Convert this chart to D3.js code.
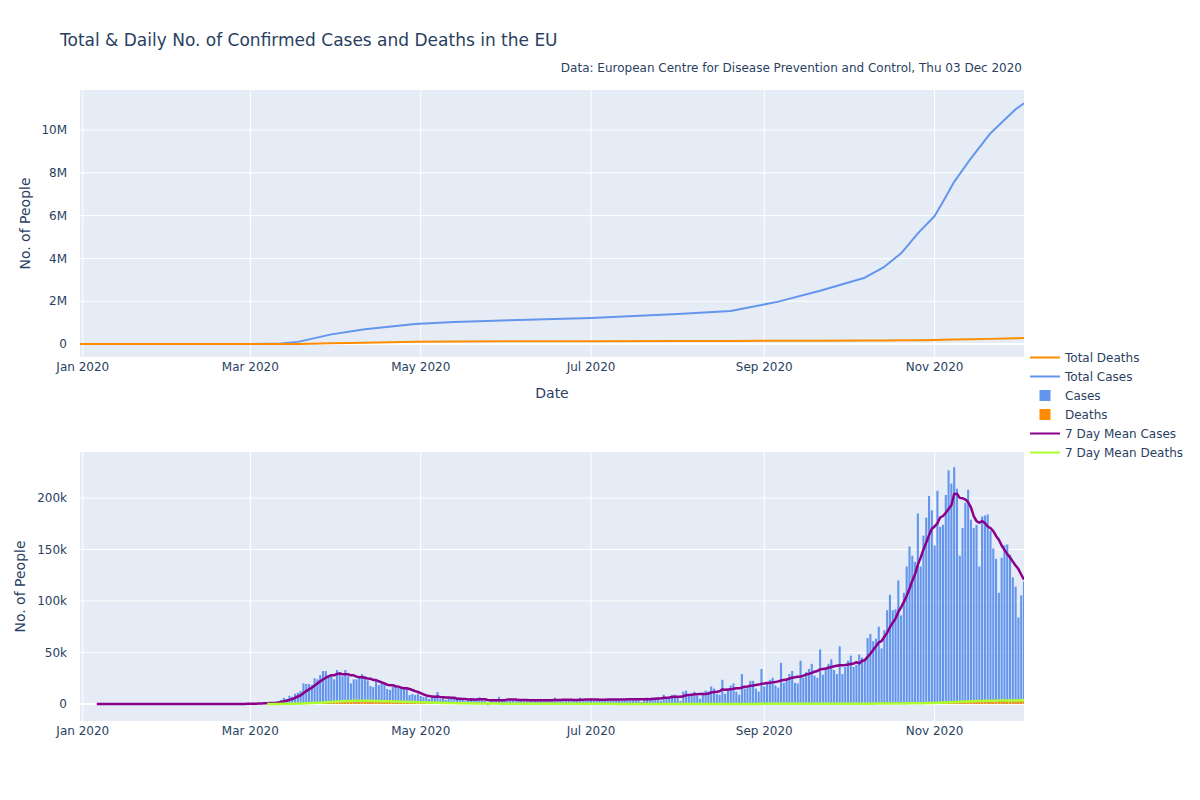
<!DOCTYPE html>
<html>
<head>
<meta charset="utf-8">
<script src="https://cdn.jsdelivr.net/npm/d3@7"></script>
<style>
  body { margin: 0; background: #fff; }
  svg { font-family: "DejaVu Sans", Verdana, sans-serif; }
</style>
</head>
<body>
<div id="chart"></div>
<script>
// ---- Data ----

// Daily confirmed cases, one value per day from 2019-12-31 to 2020-12-03
const casesStart = '2019-12-31';
const dailyCases = [
    0,
    // Jan
    0, 0, 0, 0, 0, 0, 0, 0, 0, 0, 0, 0, 0, 0, 0, 0, 0, 0, 0, 0, 0, 0, 0, 0, 3, 0, 1, 4, 1, 1, 5,
    // Feb
    2, 3, 1, 2, 1, 0, 1, 2, 3, 4, 1, 0, 1, 1, 0, 0, 1, 0, 0, 1, 3, 14, 60, 70, 95, 110, 180, 250, 330,
    // Mar
    420, 520, 600, 750, 900, 1100, 1300, 1400, 1500,
    1600, 2300, 4000, 6000, 5000, 8000, 7000, 10000, 11000, 12600, 20000, 19400, 19400, 18400, 25000,
    24000, 28000, 32000, 32000, 28000, 27000, 24000,
    // Apr
    33000, 31000, 27000, 33000, 27000, 20000, 24000, 24000, 27000, 29000, 27000, 23000, 17500, 16500, 23000,
    18400, 22000, 19400, 14600, 13600, 16500, 16500, 15500, 15500, 14600, 14600, 8700, 9700, 8700, 9700,
    // May
    7800, 6800, 6800, 4900, 6800, 5800, 11600, 4900, 5800, 3900, 5800, 4900,
    5500, 5200, 4800, 4200, 3000, 3800, 5000, 4500, 4800, 6500, 4200, 3200, -1200, 3500, 4300, 4500, 7000, 4200, 3000,
    // Jun
    3500, 4200, 4000, 4300, 4100, 3800, 2800, 3200, 4000, 3900, 4200, 4000, 3600, 2600, 3000,
    3900, 4100, 6200, 4300, 3900, 2900, 3300, 4100, 4300, 4500, 4400, 6000, 3000, 3500, 4400,
    // Jul
    4500, 4600, 4800, 4500, 3200, 3600, 4700, 4800, 5000, 5100, 4400, 3300, 4000, 5000, 5200, 5300, 5600, 4600,
    2000, 5000, 5500, 5000, 6500, 6500, 6500, 3000, 9000, 6500, 6500, 9000, 9000,
    // Aug
    7000, 3000, 12000, 13000, 8000, 10500, 12000, 8000, 5000, 11000, 13000, 12000, 17000, 15000, 10000, 9000,
    23500, 10000, 14000, 18000, 20000, 12000, 9000, 29000, 15000, 16000, 22500, 22500, 15000, 12000, 34000,
    // Sep
    17000, 20000, 23500, 25500, 18000, 16000, 40000, 20500, 23500, 29000, 32000, 20500, 20000, 42000, 25500,
    31000, 34000, 39000, 27500, 25500, 53000, 28500, 34000, 39000,
    43500, 33000, 29000, 56000, 29000, 36000,
    // Oct
    42000, 47000, 36000, 38000, 48000, 45000, 42500, 64000, 68000, 61000, 63500, 75000, 54000, 71600, 91000,
    106000, 91000, 92000, 120000, 86000, 108000, 133500, 153000, 144000, 138000, 185000, 133500, 163500,
    181000, 202000, 188000,
    // Nov
    154000, 207000, 172000, 174000, 203000, 227000, 214000, 230000, 209000, 144000, 171000, 195500, 208000,
    179000, 171000, 174000, 133500, 182000, 183000, 184000, 168000, 151000, 141000, 108000, 142000, 154000,
    155000, 145000, 123000, 114000,
    // Dec
    84000, 105500, 119000
];

// Daily deaths, one value per day from 2020-03-01 to 2020-12-03
const deathsStart = '2020-03-01';
const dailyDeaths = [
    // Mar
    12, 20, 28, 30, 40, 50, 60, 140, 100, 170, 200, 240, 260, 300, 420, 440, 500, 620, 700, 950,
    1050, 1100, 1200, 1300, 1600, 1900, 2200, 2400, 2400, 2200, 2600,
    // Apr
    3000, 3100, 3300, 3400, 2900, 2600, 3200, 3500, 3400, 3300, 3000, 2600, 2300, 2800, 3100,
    3000, 2700, 2400, 2000, 1900, 2500, 2400, 2300, 2100, 1900, 1500, 1300, 2000, 1900, 1700,
    // May
    1500, 1300, 1000, 900, 1400, 1300, 1100, 1000, 900, 700, 600, 900, 900, 800, 700, 600,
    450, 400, 650, 600, 550, 500, 400, 300, 250, 450, 450, 400, 350, 300, 200,
    // Jun
    200, 300, 350, 300, 280, 250, 150, 180, 280, 260, 250, 220, 180, 120, 140,
    240, 220, 200, 180, 150, 100, 120, 200, 190, 170, 150, 130, 90, 110, 180,
    // Jul
    170, 160, 150, 130, 80, 100, 160, 150, 140, 130, 100, 70, 90, 140, 130, 120,
    110, 90, 60, 80, 130, 120, 110, 100, 80, 60, 70, 120, 110, 110, 100,
    // Aug
    80, 60, 80, 120, 110, 110, 100, 90, 60, 70, 130, 120, 110, 110, 90, 70,
    80, 140, 130, 120, 120, 100, 80, 90, 160, 150, 140, 140, 120, 90, 110,
    // Sep
    190, 180, 170, 170, 150, 110, 130, 230, 220, 210, 210, 180, 130, 160, 280,
    270, 260, 260, 220, 160, 190, 330, 320, 310, 300, 260, 190, 230, 380, 370,
    // Oct
    360, 350, 300, 220, 280, 450, 430, 420, 410, 360, 270, 340, 600, 580, 560, 560,
    480, 360, 450, 850, 800, 780, 780, 680, 520, 650, 1300, 1250, 1200, 1250, 1100,
    // Nov
    850, 1100, 2000, 2200, 2200, 2300, 2100, 1600, 1900, 3000, 3100, 3000, 3100, 2800, 2200,
    2500, 3700, 3600, 3500, 3600, 3200, 2500, 2800, 4000, 3900, 3800, 3900, 3300, 2600, 2900,
    // Dec
    4200, 4100, 4000
];

// Running totals (top panel), read at the kinks of the curves
const totalDates = [
    '2019-12-31', '2020-03-01', '2020-03-12', '2020-03-18', '2020-03-30', '2020-04-11', '2020-04-29',
    '2020-05-13', '2020-06-05', '2020-07-01', '2020-08-01', '2020-08-20', '2020-09-06', '2020-09-21',
    '2020-10-07', '2020-10-14', '2020-10-20', '2020-10-26', '2020-11-01', '2020-11-04', '2020-11-08',
    '2020-11-14', '2020-11-21', '2020-11-30', '2020-12-03'
];
const totalCases = [
    0, 2000, 20000, 100000, 450000, 690000, 930000,
    1030000, 1120000, 1210000, 1400000, 1540000, 1980000, 2490000,
    3100000, 3610000, 4240000, 5170000, 5980000, 6650000, 7580000,
    8680000, 9850000, 10970000, 11250000
];
const totalDeaths = [
    0, 0, 1000, 3000, 30000, 60000, 100000,
    115000, 125000, 130000, 135000, 140000, 150000, 155000,
    160000, 165000, 170000, 175000, 185000, 195000, 205000,
    220000, 240000, 265000, 280000
];

// Axis ticks
const xTickDates = ['2020-01-01', '2020-03-01', '2020-05-01', '2020-07-01', '2020-09-01', '2020-11-01'];
const xTickLabels = ['Jan 2020', 'Mar 2020', 'May 2020', 'Jul 2020', 'Sep 2020', 'Nov 2020'];
const topTicks = [0, 2e6, 4e6, 6e6, 8e6, 10e6];
const topTickLabels = ['0', '2M', '4M', '6M', '8M', '10M'];
const bottomTicks = [0, 50000, 100000, 150000, 200000];
const bottomTickLabels = ['0', '50k', '100k', '150k', '200k'];

// Legend entries
const legendItems = [
    { name: 'Total Deaths', type: 'line', color: '#FF8C00' },
    { name: 'Total Cases', type: 'line', color: '#6495ED' },
    { name: 'Cases', type: 'bar', color: '#6495ED' },
    { name: 'Deaths', type: 'bar', color: '#FF8C00' },
    { name: '7 Day Mean Cases', type: 'line', color: '#8B008B' },
    { name: '7 Day Mean Deaths', type: 'line', color: '#ADFF2F' }
];

// ---- Layout ----
const W = 1200, H = 800;
const TEXT = '#2a3f5f';
const BG = '#E5ECF6';
const plotLeft = 80, plotRight = 1024;
const topPanel = { y0: 90, y1: 357 };
const bottomPanel = { y0: 452, y1: 721 };

const parseDate = d3.utcParse('%Y-%m-%d');

function toSeries(start, values) {
    const t0 = parseDate(start);
    return values.map((v, i) => ({ date: d3.utcDay.offset(t0, i), value: v }));
}

function rollingMean(series, n) {
    return series.map((d, i) => {
        if (i < n - 1) return { date: d.date, value: null };
        return { date: d.date, value: d3.mean(series.slice(i - n + 1, i + 1), s => s.value) };
    });
}

const cases = toSeries(casesStart, dailyCases);
const deaths = toSeries(deathsStart, dailyDeaths);
const casesMean = rollingMean(cases, 7);
const deathsMean = rollingMean(deaths, 7);
const totals = totalDates.map((d, i) => ({ date: parseDate(d), cases: totalCases[i], deaths: totalDeaths[i] }));

const svg = d3.select('#chart').append('svg')
    .attr('width', W)
    .attr('height', H)
    .style('background', '#fff');

const x = d3.scaleUtc()
    .domain([parseDate('2019-12-31'), parseDate('2020-12-03')])
    .range([plotLeft, plotRight]);

const yTop = d3.scaleLinear()
    .domain([-607000, 11870000])
    .range([topPanel.y1, topPanel.y0]);

const yBottom = d3.scaleLinear()
    .domain([-16500, 244700])
    .range([bottomPanel.y1, bottomPanel.y0]);

// Panel background, grid, ticks
function drawPanel(panel, y, ticks, labels, id) {
    svg.append('rect')
        .attr('x', plotLeft)
        .attr('y', panel.y0)
        .attr('width', plotRight - plotLeft)
        .attr('height', panel.y1 - panel.y0)
        .attr('fill', BG);

    svg.append('clipPath').attr('id', id)
        .append('rect')
        .attr('x', plotLeft)
        .attr('y', panel.y0)
        .attr('width', plotRight - plotLeft)
        .attr('height', panel.y1 - panel.y0);

    const grid = svg.append('g').attr('clip-path', `url(#${id})`);

    xTickDates.forEach(d => {
        const xx = x(parseDate(d));
        grid.append('line')
            .attr('x1', xx).attr('x2', xx)
            .attr('y1', panel.y0).attr('y2', panel.y1)
            .attr('stroke', '#fff').attr('stroke-width', 1);
    });

    ticks.forEach((t, i) => {
        grid.append('line')
            .attr('x1', plotLeft).attr('x2', plotRight)
            .attr('y1', y(t)).attr('y2', y(t))
            .attr('stroke', '#fff')
            .attr('stroke-width', t === 0 ? 2 : 1);

        svg.append('text')
            .attr('x', 67)
            .attr('y', y(t) + 4.2)
            .attr('text-anchor', 'end')
            .attr('fill', TEXT)
            .style('font-size', '12px')
            .text(labels[i]);
    });

    xTickDates.forEach((d, i) => {
        svg.append('text')
            .attr('x', x(parseDate(d)))
            .attr('y', panel.y1 + 13.5)
            .attr('text-anchor', 'middle')
            .attr('fill', TEXT)
            .style('font-size', '12px')
            .text(xTickLabels[i]);
    });

    return svg.append('g').attr('clip-path', `url(#${id})`);
}

const gTop = drawPanel(topPanel, yTop, topTicks, topTickLabels, 'clip-top');
const gBottom = drawPanel(bottomPanel, yBottom, bottomTicks, bottomTickLabels, 'clip-bottom');

// Top panel: running totals
const totalLine = key => d3.line()
    .x(d => x(d.date))
    .y(d => yTop(d[key]));

gTop.append('path')
    .datum(totals)
    .attr('d', totalLine('cases'))
    .attr('fill', 'none')
    .attr('stroke', '#6495ED')
    .attr('stroke-width', 2)
    .attr('stroke-linejoin', 'round');

gTop.append('path')
    .datum(totals)
    .attr('d', totalLine('deaths'))
    .attr('fill', 'none')
    .attr('stroke', '#FF8C00')
    .attr('stroke-width', 2)
    .attr('stroke-linejoin', 'round');

// Bottom panel: daily bars (overlaid) + 7 day means
const dayW = x(parseDate('2020-01-02')) - x(parseDate('2020-01-01'));
const barW = dayW * 0.75;

function drawBars(data, color) {
    gBottom.append('g')
        .selectAll('rect')
        .data(data)
        .enter().append('rect')
        .attr('x', d => x(d.date) - barW / 2)
        .attr('y', d => Math.min(yBottom(d.value), yBottom(0)))
        .attr('width', barW)
        .attr('height', d => Math.abs(yBottom(0) - yBottom(d.value)))
        .attr('fill', color);
}

drawBars(cases, '#6495ED');
drawBars(deaths, '#FF8C00');

const meanLine = d3.line()
    .defined(d => d.value != null)
    .x(d => x(d.date))
    .y(d => yBottom(d.value));

gBottom.append('path')
    .datum(casesMean)
    .attr('d', meanLine)
    .attr('fill', 'none')
    .attr('stroke', '#8B008B')
    .attr('stroke-width', 2.5)
    .attr('stroke-linejoin', 'round');

gBottom.append('path')
    .datum(deathsMean)
    .attr('d', meanLine)
    .attr('fill', 'none')
    .attr('stroke', '#ADFF2F')
    .attr('stroke-width', 2.5)
    .attr('stroke-linejoin', 'round');

// Titles
svg.append('text')
    .attr('x', 60)
    .attr('y', 46)
    .attr('fill', TEXT)
    .style('font-size', '17px')
    .text('Total & Daily No. of Confirmed Cases and Deaths in the EU');

svg.append('text')
    .attr('x', 1022)
    .attr('y', 72)
    .attr('text-anchor', 'end')
    .attr('fill', TEXT)
    .style('font-size', '12px')
    .text('Data: European Centre for Disease Prevention and Control, Thu 03 Dec 2020');

svg.append('text')
    .attr('x', (plotLeft + plotRight) / 2)
    .attr('y', 398)
    .attr('text-anchor', 'middle')
    .attr('fill', TEXT)
    .style('font-size', '14px')
    .text('Date');

[[25, topPanel], [20, bottomPanel]].forEach(([xx, panel]) => {
    const cy = (panel.y0 + panel.y1) / 2;
    svg.append('text')
        .attr('transform', `translate(${xx},${cy}) rotate(-90)`)
        .attr('dy', '0.35em')
        .attr('text-anchor', 'middle')
        .attr('fill', TEXT)
        .style('font-size', '14px')
        .text('No. of People');
});

// Legend
const legend = svg.append('g').attr('transform', 'translate(1030, 357.5)');

legendItems.forEach((item, i) => {
    const row = legend.append('g').attr('transform', `translate(0, ${i * 19})`);
    if (item.type === 'line') {
        row.append('line')
            .attr('x1', 0).attr('x2', 30)
            .attr('y1', 0).attr('y2', 0)
            .attr('stroke', item.color)
            .attr('stroke-width', 2);
    } else {
        row.append('rect')
            .attr('x', 9.5).attr('y', -5.5)
            .attr('width', 11).attr('height', 11)
            .attr('fill', item.color);
    }
    row.append('text')
        .attr('x', 35)
        .attr('y', 4.3)
        .attr('fill', TEXT)
        .style('font-size', '12px')
        .text(item.name);
});
</script>
</body>
</html>
